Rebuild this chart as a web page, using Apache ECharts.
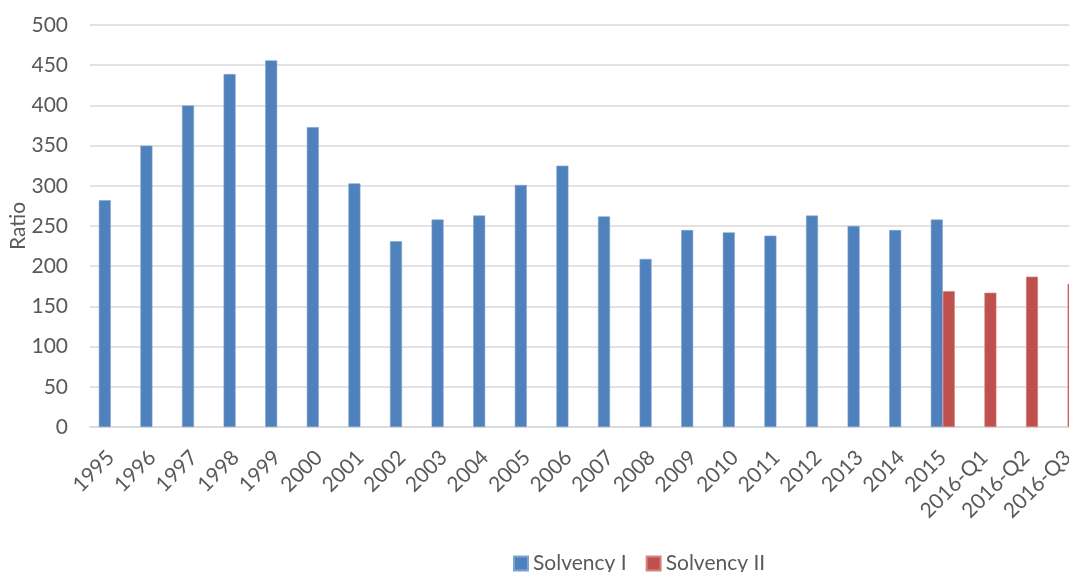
<!DOCTYPE html>
<html>
<head>
<meta charset="utf-8">
<script src="https://cdn.jsdelivr.net/npm/echarts@6/dist/echarts.min.js"></script>
<style>
html,body{margin:0;padding:0;background:#fff;}
#chart{width:1069px;height:572px;}
</style>
</head>
<body>
<div id="chart"></div>
<script>
const categories = ['1995','1996','1997','1998','1999','2000','2001','2002','2003','2004','2005','2006','2007','2008','2009','2010','2011','2012','2013','2014','2015','2016-Q1','2016-Q2','2016-Q3'];
const solvency1 = [282,350,400,439,456,373,303,231,258,263,301,325,262,209,245,242,238,263,250,245,258,null,null,null];
const solvency2 = [null,null,null,null,null,null,null,null,null,null,null,null,null,null,null,null,null,null,null,null,169,167,187,178];
const yTicks = {min:0,max:500,interval:50};

const font = 'Lato, "Open Sans", sans-serif';
const txt = '#595959';
const chart = echarts.init(document.getElementById('chart'));
chart.setOption({
  animation:false,
  textStyle:{fontFamily:font},
  grid:{left:90,width:998.4,top:25,height:402,containLabel:false,outerBoundsMode:'none'},
  legend:{
    left:508, top:548, itemWidth:14, itemHeight:14, itemGap:19,
    icon:'rect',
    textStyle:{fontSize:21,color:txt,fontFamily:font},
    data:['Solvency I','Solvency II']
  },
  xAxis:{
    type:'category', data:categories,
    axisLine:{lineStyle:{color:'#d9d9d9',width:1.5}},
    axisTick:{show:false},
    axisLabel:{rotate:45,fontSize:21,color:txt,margin:27,interval:0,fontFamily:font,hideOverlap:false}
  },
  yAxis:{
    type:'value', min:yTicks.min, max:yTicks.max, interval:yTicks.interval,
    name:'Ratio', nameLocation:'middle', nameGap:61, nameMoveOverlap:false,
    nameTextStyle:{fontSize:21,color:txt,fontFamily:font},
    axisLine:{show:false}, axisTick:{show:false},
    axisLabel:{fontSize:21,color:txt,margin:22,fontFamily:font},
    splitLine:{lineStyle:{color:'#d9d9d9',width:1.5}}
  },
  series:[
    {name:'Solvency I',type:'bar',data:solvency1,barWidth:12,barGap:'0%',
     itemStyle:{color:'#4f81bd',borderColor:'#7fa3d1',borderWidth:0.6}},
    {name:'Solvency II',type:'bar',data:solvency2,barWidth:12,barGap:'0%',
     itemStyle:{color:'#c0504d',borderColor:'#d48583',borderWidth:0.6}}
  ]
});
</script>
</body>
</html>
